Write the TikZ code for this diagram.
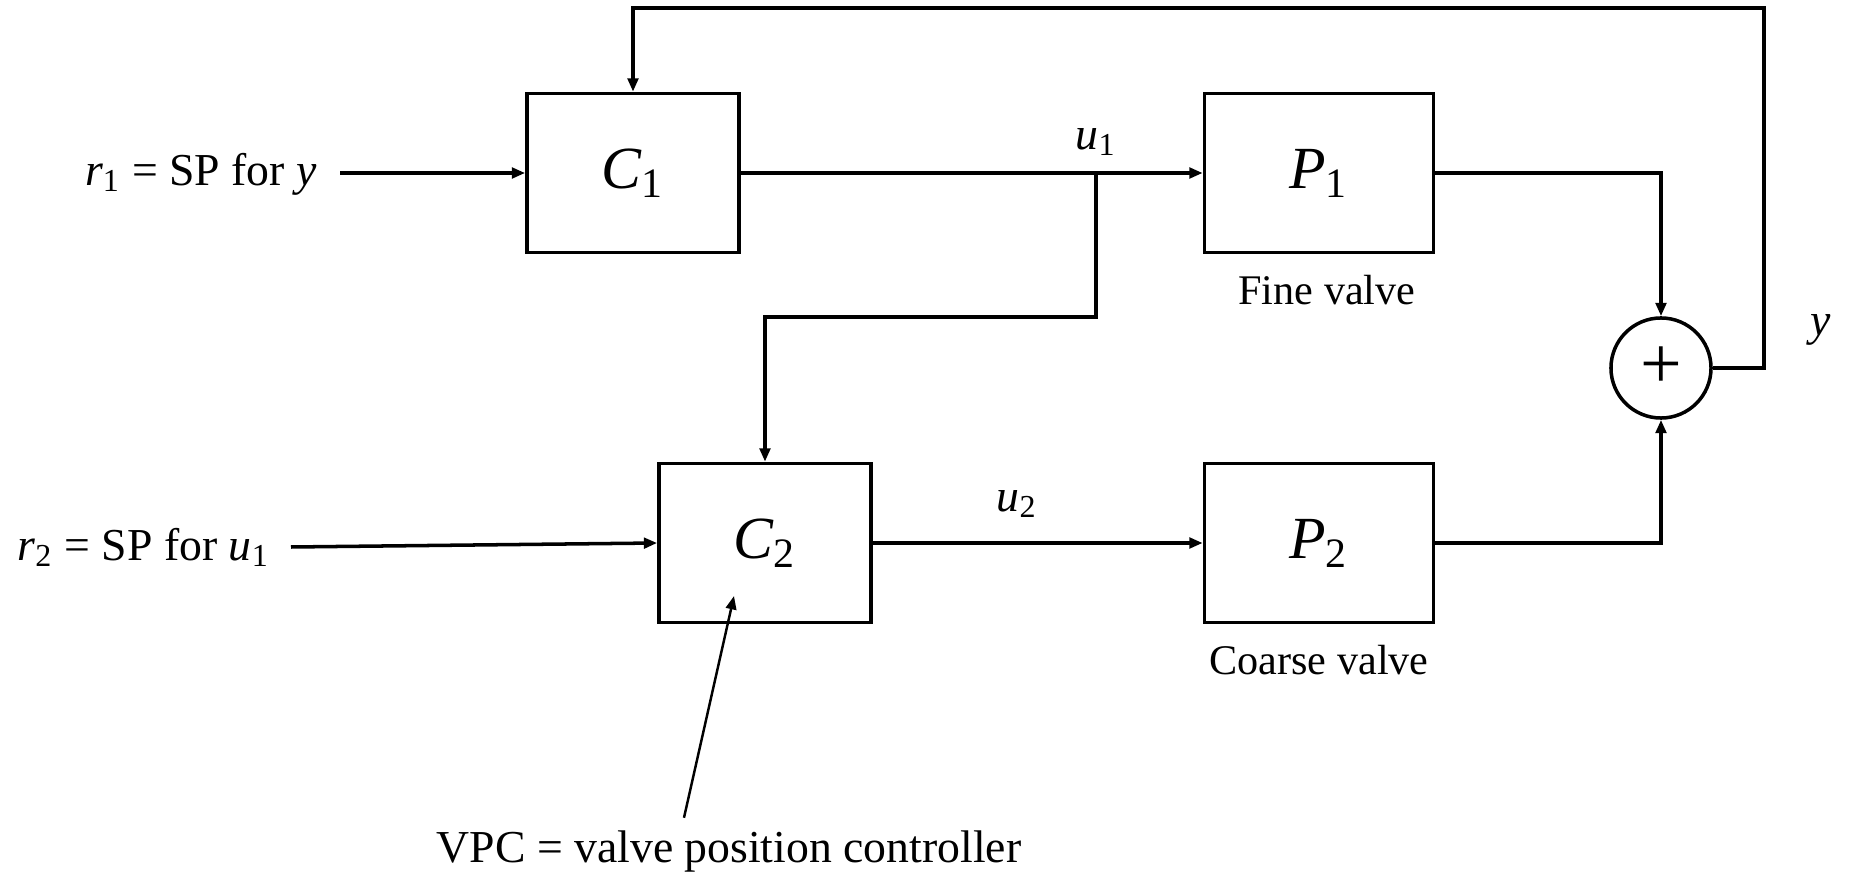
\documentclass[tikz,border=0pt]{standalone}
\usepackage{fontspec}
\setmainfont{Liberation Serif}
\usetikzlibrary{arrows.meta,positioning}

\newcommand{\vsub}[2]{{\itshape #1}\textsubscript{#2}}

\begin{document}
\begin{tikzpicture}[x=0.01cm,y=-0.01cm,>={Triangle[length=3.8pt,width=3pt]},
  line width=1pt,
  every node/.style={font=\fontsize{13}{15}\selectfont},
  block/.style={draw,minimum width=2.12cm,minimum height=1.59cm,font=\fontsize{17}{20}\selectfont},
  plant/.style={block,minimum width=2.29cm},
  valve/.style={font=\fontsize{12}{14}\selectfont},
  sumnode/.style={draw,circle,minimum size=1cm,inner sep=0pt,font=\fontsize{21}{22}\selectfont}]
  \useasboundingbox (0,0) rectangle (1850,876);
  % blocks
  \node[block] (c1) at (633,173) {\vsub{C}{1}};
  \node[plant] (p1) at (1319,173) {\vsub{P}{1}};
  \node[block] (c2) at (765,543) {\vsub{C}{2}};
  \node[plant] (p2) at (1319,543) {\vsub{P}{2}};
  \node[sumnode] (sum) at (1661,368) {+};
  % labels
  \node[anchor=mid east] (r1) at (330,177) {\vsub{r}{1} = SP for {\itshape y}};
  \node[anchor=mid east] (r2) at (283,552) {\vsub{r}{2} = SP for \vsub{u}{1}};
  \node (u1) at (1096,142) {\vsub{u}{1}};
  \node (u2) at (1017,504) {\vsub{u}{2}};
  \node (y) at (1821,330) {\itshape y};
  \node[valve,below=2pt of p1,xshift=0.08cm] (fine) {Fine valve};
  \node[valve,below=2pt of p2] (coarse) {Coarse valve};
  \node (vpc) at (729,852) {VPC = valve position controller};
  % points
  \coordinate (r1in) at (340,173);
  \coordinate (br) at (1096,173);
  \coordinate (brdown) at (1096,317);
  \coordinate (fb) at (1764,8);
  \coordinate (r2in) at (291,547);
  \coordinate (vpcend) at (734,596);
  % connectors
  \draw[->] (r1in) -- (c1.west);
  \draw[->] (c1) -- (p1);
  \draw[->] (br) -- (brdown) -| (c2.north);
  \draw[->] (r2in) -- (c2.west);
  \draw[->] (c2) -- (p2);
  \draw[->] (p1.east) -| (sum.north);
  \draw[->] (p2.east) -| (sum.south);
  \draw[->] (sum.east) -| (fb) -| (c1.north);
  \draw[->,line width=0.7pt] ([xshift=-0.45cm]vpc.north) -- (vpcend);
\end{tikzpicture}
\end{document}
